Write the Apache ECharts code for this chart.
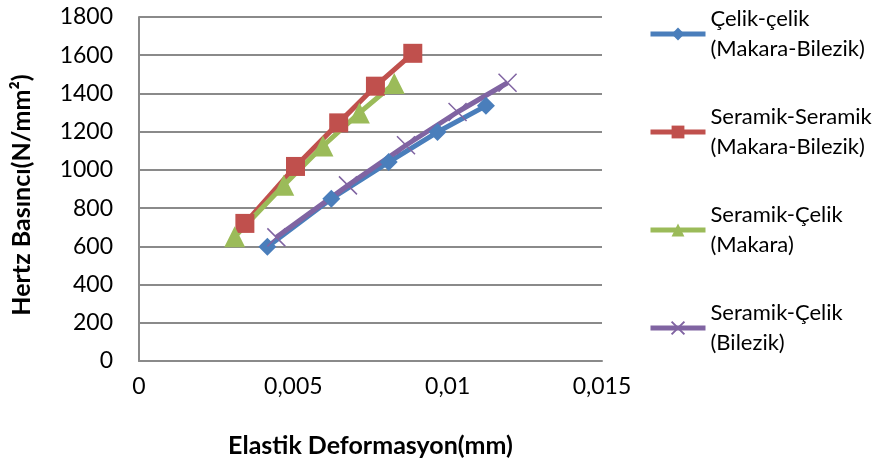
<!DOCTYPE html>
<html lang="tr">
<head>
    <meta charset="UTF-8">
    <title>Hertz Basıncı</title>
    <script src="https://cdn.jsdelivr.net/npm/echarts@6/dist/echarts.min.js"></script>
    <style>
        html, body { margin: 0; padding: 0; background: #fff; }
        #chart { width: 879px; height: 463px; }
    </style>
</head>
<body>
<div id="chart"></div>
<script>
    // seri adlari (legend'de iki satir)
    var names = ['Çelik-çelik', 'Seramik-Seramik', 'Seramik-Çelik ', 'Seramik-Çelik'];
    var subNames = ['(Makara-Bilezik)', '(Makara-Bilezik)', '(Makara)', '(Bilezik)'];

    // elastik deformasyon (mm) / hertz basinci (N/mm2)
    var celikX = [0.00416, 0.00623, 0.00809, 0.00967, 0.01124];
    var celikY = [598, 849, 1041, 1198, 1335];
    var seramikX = [0.00343, 0.00507, 0.00647, 0.00766, 0.00887];
    var seramikY = [720, 1018, 1246, 1438, 1610];
    var makaraX = [0.00310, 0.00469, 0.00596, 0.00714, 0.00827];
    var makaraY = [650, 920, 1125, 1298, 1452];
    var bilezikX = [0.00445, 0.00677, 0.00865, 0.01032, 0.01194];
    var bilezikY = [647, 919, 1129, 1303, 1456];

    var xTicks = ['0', '0,005', '0,01', '0,015'];

    function pairs(xs, ys) {
        var out = [];
        for (var i = 0; i < xs.length; i++) out.push([xs[i], ys[i]]);
        return out;
    }

    var font = 'Lato';
    var grey = '#8a8a8a';

    var dom = document.getElementById('chart');
    var myChart = echarts.init(dom);

    var option = {
        animation: false,
        grid: { left: 139, right: 277, top: 17, bottom: 102, outerBoundsMode: 'none' },
        legend: {
            orient: 'vertical',
            left: 648,
            top: -11,
            padding: 0,
            itemWidth: 55,
            itemHeight: 16,
            itemGap: 8,
            data: names,
            lineStyle: { width: 5 },
            formatter: function (name) {
                var i = names.indexOf(name);
                return names[i].trim() + '\n' + subNames[i];
            },
            textStyle: {
                fontFamily: font,
                fontSize: 22,
                color: '#000',
                lineHeight: 30,
                padding: [30, 0, 0, 0]
            }
        },
        xAxis: {
            type: 'value',
            min: 0,
            max: 0.015,
            interval: 0.005,
            name: 'Elastik Deformasyon(mm)',
            nameLocation: 'middle',
            nameGap: 72,
            nameTextStyle: { fontFamily: font, fontSize: 25, fontWeight: 'bold', color: '#000' },
            axisLine: { show: true, lineStyle: { color: grey, width: 2 } },
            axisTick: { show: false },
            splitLine: { show: false },
            axisLabel: {
                margin: 14,
                fontFamily: font,
                fontSize: 23,
                color: '#000',
                formatter: function (v) {
                    return xTicks[Math.round(v / 0.005)];
                }
            }
        },
        yAxis: {
            type: 'value',
            min: 0,
            max: 1800,
            interval: 200,
            name: 'Hertz Basıncı(N/mm²)',
            nameLocation: 'middle',
            nameGap: 105,
            nameRotate: 90,
            nameTextStyle: {
                fontFamily: font, fontSize: 25, fontWeight: 'bold', color: '#000',
                padding: [0, 12, 0, 0]
            },
            axisLine: { show: true, lineStyle: { color: grey, width: 2 } },
            axisTick: { show: false },
            splitLine: { show: true, lineStyle: { color: grey, width: 2 } },
            axisLabel: {
                margin: 26,
                fontFamily: font,
                fontSize: 23,
                color: '#000',
                formatter: function (v) { return String(v); }
            }
        },
        series: [
            {
                name: names[0],
                type: 'line',
                data: pairs(celikX, celikY),
                symbol: 'diamond',
                symbolSize: 18,
                color: '#4a7ebb',
                lineStyle: { width: 5 }
            },
            {
                name: names[1],
                type: 'line',
                data: pairs(seramikX, seramikY),
                symbol: 'rect',
                symbolSize: 19,
                color: '#c0504d',
                lineStyle: { width: 5 }
            },
            {
                name: names[2],
                type: 'line',
                data: pairs(makaraX, makaraY),
                symbol: 'triangle',
                symbolSize: 21,
                color: '#9bbb59',
                lineStyle: { width: 5 }
            },
            {
                name: names[3],
                type: 'line',
                data: pairs(bilezikX, bilezikY),
                symbol: 'path://M0,0L10,10M10,0L0,10',
                symbolSize: 18,
                color: '#8064a2',
                itemStyle: { borderColor: '#8064a2', borderWidth: 1.5 },
                lineStyle: { width: 5 }
            }
        ]
    };

    myChart.setOption(option);
</script>
</body>
</html>
